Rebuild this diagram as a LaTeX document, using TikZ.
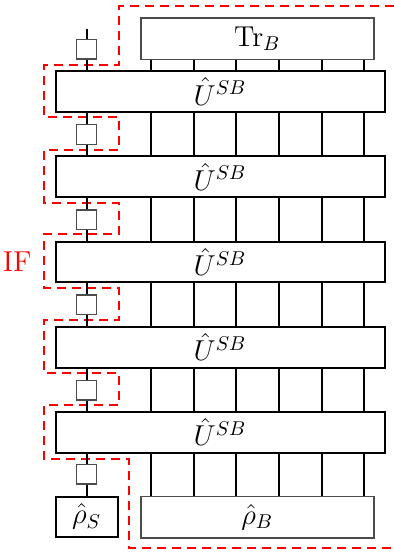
\documentclass[tikz,border=0pt]{standalone}
\usepackage{amsmath}
\usepackage{tikz}
\usetikzlibrary{positioning,calc}

\begin{document}
\begin{tikzpicture}[
            x=0.5pt,y=-0.5pt,
            ubox/.style={draw,rectangle,line width=1pt,fill=white,align=center,
                         minimum width=164.5pt,minimum height=20.4pt,inner sep=0pt,font=\Large},
            gbox/.style={draw=black!70,rectangle,line width=0.7pt,fill=white,align=center,
                         minimum width=116.5pt,minimum height=20.7pt,inner sep=0pt,font=\Large},
            sbox/.style={draw,rectangle,line width=1pt,fill=white,align=center,
                         minimum width=31pt,minimum height=20pt,inner sep=0pt,font=\Large},
            sq/.style={draw=black!70,rectangle,line width=0.7pt,fill=white,minimum size=9.8pt,inner sep=0pt},
            wire/.style={line width=1pt},
            bound/.style={red,semithick,dash pattern=on 4.5pt off 3pt}
        ]
        \useasboundingbox (0,0) rectangle (394,553);
        % boundary of the influence functional
        \draw[bound] (394,6) -- (119,6) -- (119,65) -- (44,65) -- (44,117) -- (119,117)
            -- (119,150) -- (44,150) -- (44,203) -- (119,203) -- (119,234) -- (44,234)
            -- (44,288) -- (119,288) -- (119,320) -- (44,320) -- (44,373) -- (119,373)
            -- (119,405) -- (44,405) -- (44,459) -- (129,459) -- (129,548) -- (394,548);
        % unitaries
        \node[ubox] (U1) at (220,91.5) {$\hat{U}^{SB}$};
        \foreach \k [count=\p] in {2,...,5}
            \node[ubox,below=21.2pt of U\p] (U\k) {$\hat{U}^{SB}$};
        % system line
        \foreach \k in {1,...,5}
            \node[sq,above=5.2pt of U\k.north west,xshift=16pt] (sq\k) {};
        \node[sq,below=5pt of U5.south west,xshift=16pt] (sq6) {};
        \node[sbox,below=5.5pt of sq6] (rhoS) {$\hat{\rho}_S$};
        \coordinate[above=5pt of sq1] (Sin);
        % bath
        \node[gbox,above=5pt of U1.north east,anchor=south east,xshift=-5.5pt] (trB) {$\mathrm{Tr}_B$};
        \node[gbox,below=21pt of U5.south east,anchor=north east,xshift=-5.5pt] (rhoB) {$\hat{\rho}_B$};
        \node[red,font=\Large,left=8pt of U3] (IF) {IF};
        % system wires
        \draw[wire] (Sin) -- (sq1.north);
        \foreach \k [count=\n from 2] in {1,...,5} {
            \draw[wire] (sq\k.south) -- (sq\k |- U\k.north);
            \draw[wire] (sq\n |- U\k.south) -- (sq\n.north);
        }
        \draw[wire] (sq6.south) -- (rhoS.north);
        % bath wires
        \foreach \k in {0,...,5}
            \coordinate (w\k) at ([xshift=5.5pt+21.3pt*\k]trB.south west);
        \foreach \a/\b in {trB/U1,U1/U2,U2/U3,U3/U4,U4/U5,U5/rhoB}
            \foreach \k in {0,...,5}
                \draw[wire] (w\k |- \a.south) -- (w\k |- \b.north);
\end{tikzpicture}
\end{document}
